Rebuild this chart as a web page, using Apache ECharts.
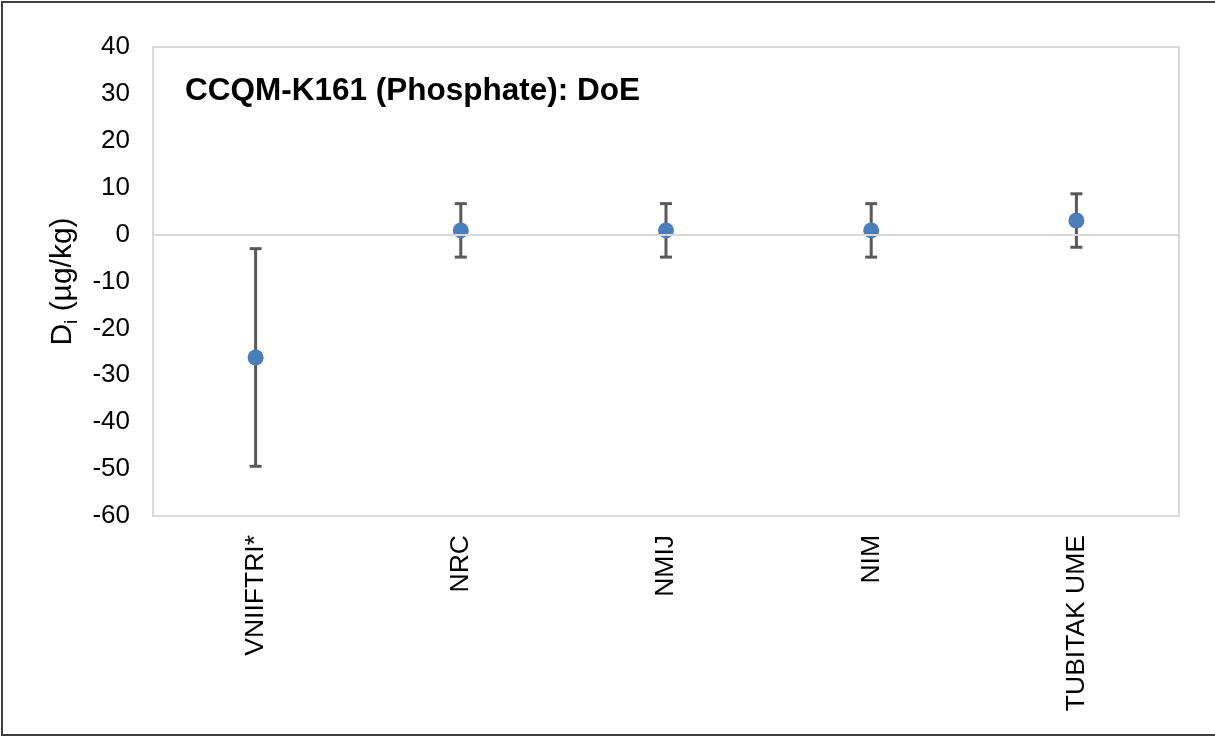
<!DOCTYPE html>
<html>
<head>
<meta charset="utf-8">
<script src="https://cdn.jsdelivr.net/npm/echarts@6/dist/echarts.min.js"></script>
<style>
  html, body { margin: 0; padding: 0; background: #fff; }
  #chart { width: 1215px; height: 736px; }
</style>
</head>
<body>
<div id="chart"></div>
<script>
// Participating institutes
const labs = ['VNIIFTRI*', 'NRC', 'NMIJ', 'NIM', 'TUBITAK UME'];
// Degrees of equivalence D_i (µg/kg)
const doeValues = [-26.2, 0.9, 0.9, 0.9, 3.0];
// Expanded uncertainty U(D_i) (µg/kg)
const doeUncertainty = [23.2, 5.7, 5.7, 5.7, 5.7];
// Value axis ticks
const yMin = -60;
const yMax = 40;
const yStep = 10;

const FONT = "'Liberation Sans', Arial, sans-serif";

const errorData = labs.map((lab, i) => [i, doeValues[i] - doeUncertainty[i], doeValues[i] + doeUncertainty[i]]);

function renderErrorBar(params, api) {
  const idx = api.value(0);
  const lo = api.coord([idx, api.value(1)]);
  const hi = api.coord([idx, api.value(2)]);
  const x = lo[0];
  const cap = 6;
  const style = { stroke: '#595959', lineWidth: 3, fill: null };
  return {
    type: 'group',
    children: [
      { type: 'line', shape: { x1: x, y1: hi[1], x2: x, y2: lo[1] }, style: style },
      { type: 'line', shape: { x1: x - cap, y1: hi[1], x2: x + cap, y2: hi[1] }, style: style },
      { type: 'line', shape: { x1: x - cap, y1: lo[1], x2: x + cap, y2: lo[1] }, style: style }
    ]
  };
}

const chart = echarts.init(document.getElementById('chart'), null, { renderer: 'canvas' });

chart.setOption({
  animation: false,
  backgroundColor: '#fff',
  title: {
    text: 'CCQM-K161 (Phosphate): DoE',
    left: 185,
    top: 75,
    padding: 0,
    textStyle: { fontFamily: FONT, fontSize: 31.5, fontWeight: 'bold', color: '#000' }
  },
  graphic: [
    {
      type: 'rect',
      silent: true,
      shape: { x: 2, y: 2, width: 1230, height: 733 },
      style: { fill: null, stroke: '#404040', lineWidth: 2 }
    }
  ],
  grid: {
    left: 153,
    right: 36,
    top: 47,
    bottom: 220,
    show: true,
    borderColor: '#d9d9d9',
    borderWidth: 2,
    backgroundColor: 'transparent',
    containLabel: false,
    outerBoundsMode: 'none'
  },
  xAxis: {
    type: 'category',
    data: labs,
    boundaryGap: true,
    axisLine: { show: false },
    axisTick: { show: false },
    splitLine: { show: false },
    axisLabel: {
      rotate: 90,
      margin: 19,
      interval: 0,
      fontFamily: FONT,
      fontSize: 26.5,
      color: '#000'
    }
  },
  yAxis: {
    type: 'value',
    min: yMin,
    max: yMax,
    interval: yStep,
    axisLine: { show: false },
    axisTick: { show: false },
    splitLine: { show: false },
    axisLabel: { margin: 23, fontFamily: FONT, fontSize: 26, color: '#000' },
    name: '{a|D}{b|i}{a| (µg/kg)}',
    nameLocation: 'middle',
    nameRotate: 90,
    nameGap: 69,
    nameTextStyle: {
      fontFamily: FONT,
      fontSize: 30,
      color: '#000',
      rich: {
        a: { fontFamily: FONT, fontSize: 30, color: '#000', lineHeight: 38 },
        b: { fontFamily: FONT, fontSize: 19, color: '#000', verticalAlign: 'bottom', lineHeight: 19 }
      }
    }
  },
  series: [
    {
      type: 'custom',
      renderItem: renderErrorBar,
      data: errorData,
      encode: { x: 0, y: [1, 2] },
      z: 2
    },
    {
      type: 'scatter',
      data: doeValues,
      symbol: 'circle',
      symbolSize: 16,
      itemStyle: { color: '#4A7EBB', opacity: 1 },
      z: 3,
      markLine: {
        silent: true,
        symbol: 'none',
        label: { show: false },
        lineStyle: { color: '#d9d9d9', width: 2, type: 'solid' },
        data: [{ yAxis: 0 }]
      }
    }
  ]
});
</script>
</body>
</html>
